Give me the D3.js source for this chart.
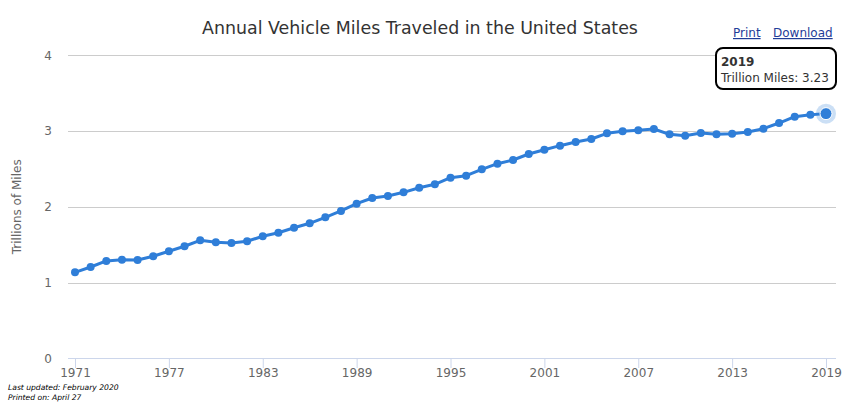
<!DOCTYPE html>
<html><head><meta charset="utf-8">
<script src="https://cdn.jsdelivr.net/npm/d3@7"></script>
<style>
body{margin:0;background:#fff;}
svg{display:block;font-family:"DejaVu Sans",sans-serif;}
</style></head>
<body>
<svg id="chart" width="857" height="405"></svg>
<script>
const years = [1971,1972,1973,1974,1975,1976,1977,1978,1979,1980,1981,1982,1983,1984,1985,1986,1987,1988,1989,1990,1991,1992,1993,1994,1995,1996,1997,1998,1999,2000,2001,2002,2003,2004,2005,2006,2007,2008,2009,2010,2011,2012,2013,2014,2015,2016,2017,2018,2019];
const trillionMiles = [1.135,1.205,1.285,1.302,1.298,1.347,1.413,1.479,1.558,1.531,1.522,1.545,1.611,1.658,1.724,1.782,1.861,1.945,2.041,2.116,2.143,2.191,2.252,2.297,2.384,2.411,2.495,2.569,2.618,2.697,2.754,2.807,2.855,2.895,2.970,2.997,3.010,3.027,2.957,2.939,2.974,2.957,2.965,2.988,3.031,3.106,3.190,3.216,3.23];
const yTicks = [0,1,2,3,4];
const xTickYears = [1971,1977,1983,1989,1995,2001,2007,2013,2019];
const title = "Annual Vehicle Miles Traveled in the United States";
const yLabel = "Trillions of Miles";

(function(){
const svg = d3.select("#chart");
const mLeft = 68, mRight = 836, mTop = 55.3, mBottom = 358.3;
const x = d3.scaleLinear().domain([1971,2019]).range([75,826]);
const y = d3.scaleLinear().domain([0,4]).range([mBottom, mTop]);

svg.append("g").selectAll("line").data(yTicks.filter(d=>d>0)).join("line")
  .attr("x1",mLeft).attr("x2",mRight).attr("y1",d=>Math.round(y(d))+0.5).attr("y2",d=>Math.round(y(d))+0.5)
  .attr("stroke","#cccccc").attr("stroke-width",1);

const yAxis = d3.axisLeft(y).tickValues(yTicks).tickFormat(d3.format("d")).tickSize(0).tickPadding(0);
const gy = svg.append("g").attr("transform",`translate(52,0)`).call(yAxis);
gy.select(".domain").remove();
gy.selectAll("text").attr("fill","#666").style("font-size","12px").style("font-family","DejaVu Sans");

const xAxis = d3.axisBottom(x).tickValues(xTickYears).tickFormat(d3.format("d")).tickSize(10).tickPadding(0);
const gx = svg.append("g").attr("transform",`translate(0,${Math.round(mBottom)})`).call(xAxis);
gx.select(".domain").attr("d",`M${mLeft},0.5H${mRight}`).attr("stroke","#ccd6eb");
gx.selectAll(".tick line").attr("stroke","#ccd6eb");
gx.selectAll("text").attr("fill","#666").style("font-size","12px").style("font-family","DejaVu Sans");

svg.append("text").attr("transform",`translate(21,${(mTop+mBottom)/2}) rotate(-90)`)
  .attr("text-anchor","middle").attr("fill","#666").style("font-size","12px").text(yLabel);

svg.append("text").attr("x",420).attr("y",34).attr("text-anchor","middle")
  .attr("fill","#333").style("font-size","17.4px").text(title);

svg.append("text").attr("x",733).attr("y",37).attr("fill","#1f3d99").style("font-size","12px")
  .attr("text-decoration","underline").text("Print");
svg.append("text").attr("x",773).attr("y",37).attr("fill","#1f3d99").style("font-size","12px")
  .attr("text-decoration","underline").text("Download");

const color = "#2f7ed8";
const data = years.map((yr,i)=>({yr, v: trillionMiles[i]}));
svg.append("path").datum(data)
  .attr("d", d3.line().x(d=>x(d.yr)).y(d=>y(d.v)))
  .attr("fill","none").attr("stroke",color).attr("stroke-width",3).attr("stroke-linejoin","round");
svg.append("g").selectAll("circle").data(data).join("circle")
  .attr("cx",d=>x(d.yr)).attr("cy",d=>y(d.v)).attr("r",4).attr("fill",color);

const last = data[data.length-1];
svg.append("circle").attr("cx",x(last.yr)).attr("cy",y(last.v)).attr("r",10)
  .attr("fill",color).attr("fill-opacity",0.25);
svg.append("circle").attr("cx",x(last.yr)).attr("cy",y(last.v)).attr("r",6)
  .attr("fill",color).attr("stroke","#fff").attr("stroke-width",1);

const tip = svg.append("g");
tip.append("rect").attr("x",716).attr("y",48).attr("width",120).attr("height",41).attr("rx",7)
  .attr("fill","#fff").attr("stroke","#000").attr("stroke-width",2);
tip.append("text").attr("x",721).attr("y",66).attr("fill","#333").style("font-size","12px")
  .style("font-weight","bold").text(last.yr);
tip.append("text").attr("x",721).attr("y",82).attr("fill","#333").style("font-size","12px")
  .text("Trillion Miles: " + d3.format(".2f")(last.v));

svg.append("text").attr("x",8).attr("y",390).attr("fill","#000").style("font-size","7.6px")
  .style("font-style","italic").text("Last updated: February 2020");
svg.append("text").attr("x",8).attr("y",400).attr("fill","#000").style("font-size","7.6px")
  .style("font-style","italic").text("Printed on: April 27");
})();
</script>
</body></html>
